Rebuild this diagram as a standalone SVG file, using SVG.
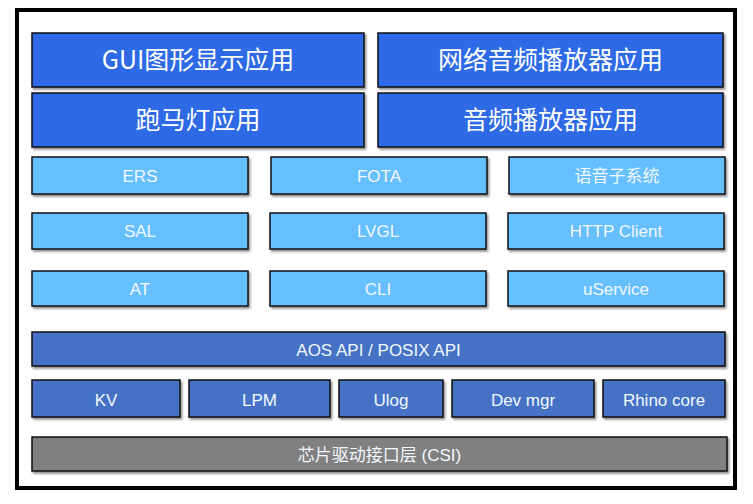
<svg xmlns="http://www.w3.org/2000/svg" width="753" height="504" viewBox="0 0 753 504">
<defs>
<filter id="sh" x="-5%" y="-20%" width="110%" height="150%">
<feDropShadow dx="1.5" dy="2" stdDeviation="1.2" flood-color="#000" flood-opacity="0.45"/>
</filter>
<style>
.b{stroke:#111;stroke-width:1.5;filter:url(#sh)}
.app{fill:#2E6BE6}
.mid{fill:#66BFFF}
.low{fill:#4472C4}
.csi{fill:#808080}
.t1{font-family:"Noto Sans CJK SC","Noto Sans",sans-serif;font-size:25px;fill:#fff;text-anchor:middle}
.t2{font-family:"Liberation Sans","Noto Sans CJK SC",sans-serif;font-size:17px;fill:#F2F8FF;text-anchor:middle}
</style>
</defs>
<rect x="0" y="0" width="753" height="504" fill="#fff"/>
<rect x="17" y="10" width="718" height="478" fill="#fff" stroke="#000" stroke-width="4"/>

<g id="gui"><rect class="b app" x="32" y="33" width="332" height="54"/><text class="t1" x="198" y="69">GUI图形显示应用</text></g>
<g id="netaudio"><rect class="b app" x="378" y="33" width="345" height="54"/><text class="t1" x="550.5" y="69">网络音频播放器应用</text></g>
<g id="marquee"><rect class="b app" x="32" y="93" width="332" height="54"/><text class="t1" x="198" y="129">跑马灯应用</text></g>
<g id="audio"><rect class="b app" x="378" y="93" width="345" height="54"/><text class="t1" x="550.5" y="129">音频播放器应用</text></g>

<g id="ers"><rect class="b mid" x="32" y="157" width="216" height="37"/><text class="t2" x="140" y="182">ERS</text></g>
<g id="fota"><rect class="b mid" x="271" y="157" width="216" height="37"/><text class="t2" x="379" y="182">FOTA</text></g>
<g id="voice"><rect class="b mid" x="509" y="157" width="216" height="37"/><text class="t2" x="617" y="182">语音子系统</text></g>

<g id="sal"><rect class="b mid" x="32" y="213" width="216" height="36"/><text class="t2" x="140" y="237">SAL</text></g>
<g id="lvgl"><rect class="b mid" x="270" y="213" width="216" height="36"/><text class="t2" x="378" y="237">LVGL</text></g>
<g id="http"><rect class="b mid" x="508" y="213" width="216" height="36"/><text class="t2" x="616" y="237">HTTP Client</text></g>

<g id="at"><rect class="b mid" x="32" y="271" width="216" height="35"/><text class="t2" x="140" y="295">AT</text></g>
<g id="cli"><rect class="b mid" x="270" y="271" width="216" height="35"/><text class="t2" x="378" y="295">CLI</text></g>
<g id="uservice"><rect class="b mid" x="508" y="271" width="216" height="35"/><text class="t2" x="616" y="295">uService</text></g>

<g id="aosapi"><rect class="b low" x="32" y="332" width="693" height="34"/><text class="t2" x="378.5" y="355.5">AOS API / POSIX API</text></g>

<g id="kv"><rect class="b low" x="32" y="380" width="148" height="37"/><text class="t2" x="106" y="406">KV</text></g>
<g id="lpm"><rect class="b low" x="189" y="380" width="141" height="37"/><text class="t2" x="259.5" y="406">LPM</text></g>
<g id="ulog"><rect class="b low" x="339" y="380" width="104" height="37"/><text class="t2" x="391" y="406">Ulog</text></g>
<g id="devmgr"><rect class="b low" x="452" y="380" width="142" height="37"/><text class="t2" x="523" y="406">Dev mgr</text></g>
<g id="rhino"><rect class="b low" x="603" y="380" width="122" height="37"/><text class="t2" x="664" y="406">Rhino core</text></g>

<g id="csi"><rect class="b csi" x="32" y="437" width="695" height="34"/><text class="t2" x="379.5" y="460.5">芯片驱动接口层 (CSI)</text></g>
<g id="connectors"></g>
</svg>
